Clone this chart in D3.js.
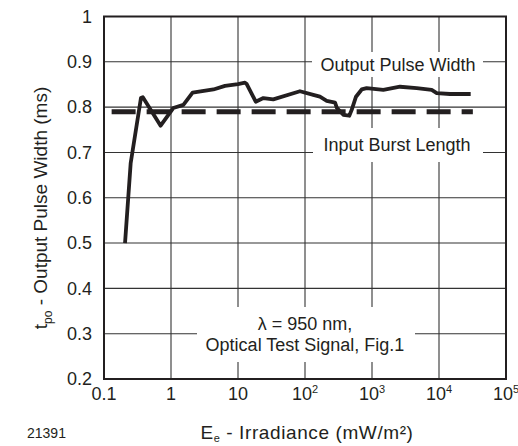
<!DOCTYPE html>
<html>
<head>
<meta charset="utf-8">
<script src="https://cdn.jsdelivr.net/npm/d3@7"></script>
<style>
body { margin: 0; background: #fff; }
text { font-family: "Liberation Sans", Arial, sans-serif; fill: #231f20; }
</style>
</head>
<body>
<script>
// irradiance (mW/m2) and output pulse width (ms)
var irradiance = [0.206, 0.25, 0.356, 0.38, 0.70, 1.08, 1.53, 2.1, 4.3, 6.4, 10, 12.7, 13.5, 18.4, 23.9, 33.6, 84, 133, 167, 211, 281, 300, 373, 458, 498, 577, 702, 832, 1476, 2620, 4650, 7780, 9250, 14600, 29700];
var pulseWidth = [0.50, 0.676, 0.82, 0.822, 0.759, 0.798, 0.805, 0.832, 0.839, 0.847, 0.851, 0.854, 0.851, 0.812, 0.82, 0.817, 0.835, 0.827, 0.823, 0.814, 0.810, 0.798, 0.783, 0.781, 0.794, 0.823, 0.839, 0.842, 0.838, 0.845, 0.842, 0.838, 0.831, 0.829, 0.829];
var burstX = [0.13, 32000];
var burstLength = 0.79;
var xTicks = [0.1, 1, 10, 100, 1000, 10000, 100000];
var xTickLabels = ["0.1", "1", "10", "10|2", "10|3", "10|4", "10|5"];
var yTicks = [0.2, 0.3, 0.4, 0.5, 0.6, 0.7, 0.8, 0.9, 1];
var yTickLabels = ["0.2", "0.3", "0.4", "0.5", "0.6", "0.7", "0.8", "0.9", "1"];

var margin = {top: 16.5, right: 12, bottom: 67, left: 104}, width = 518 - margin.left - margin.right, height = 446 - margin.top - margin.bottom;

var svg = d3.select("body")
    .append("svg")
    .attr("width", 518)
    .attr("height", 446)
    .append("g")
    .attr("transform", "translate(" + margin.left + "," + margin.top + ")");

var x = d3.scaleLog().domain([0.1, 100000]).range([0, width]);
var y = d3.scaleLinear().domain([0.2, 1]).range([height, 0]);

// grid
svg.selectAll("hgrid")
    .data(yTicks.slice(1, -1))
    .enter()
    .append("line")
    .attr("x1", 0).attr("x2", width)
    .attr("y1", function(d) { return y(d); })
    .attr("y2", function(d) { return y(d); })
    .attr("stroke", "#333").attr("stroke-width", 1.1);
svg.selectAll("vgrid")
    .data(xTicks.slice(1, -1))
    .enter()
    .append("line")
    .attr("y1", 0).attr("y2", height)
    .attr("x1", function(d) { return x(d); })
    .attr("x2", function(d) { return x(d); })
    .attr("stroke", "#333").attr("stroke-width", 1.1);

// white boxes behind the labels
function box(x0, y0, x1, y1) {
    svg.append("rect").attr("x", x0 - margin.left).attr("y", y0 - margin.top)
        .attr("width", x1 - x0).attr("height", y1 - y0).attr("fill", "#fff");
}
box(312, 52, 483, 77);
box(313, 128, 483, 162);
box(197, 307, 415, 362);

// input burst length (dashed)
svg.append("line")
    .attr("x1", x(burstX[0])).attr("x2", x(burstX[1]))
    .attr("y1", y(burstLength)).attr("y2", y(burstLength))
    .attr("stroke", "#231f20").attr("stroke-width", 5)
    .attr("stroke-dasharray", "24,11");

// output pulse width curve
svg.append("path")
    .datum(irradiance)
    .attr("fill", "none")
    .attr("stroke", "#231f20")
    .attr("stroke-width", 3.8)
    .attr("stroke-linejoin", "round")
    .attr("d", d3.line()
        .x(function(d) { return x(d); })
        .y(function(d, i) { return y(pulseWidth[i]); }));

// frame
svg.append("rect").attr("x", 0).attr("y", 0).attr("width", width).attr("height", height)
    .attr("fill", "none").attr("stroke", "#231f20").attr("stroke-width", 2);

// tick labels
svg.selectAll("ylab")
    .data(yTicks)
    .enter()
    .append("text")
    .attr("x", -12)
    .attr("y", function(d) { return y(d); })
    .attr("dy", "0.35em")
    .attr("text-anchor", "end")
    .style("font-size", "18px")
    .text(function(d, i) { return yTickLabels[i]; });

var xl = svg.selectAll("xlab")
    .data(xTicks)
    .enter()
    .append("text")
    .attr("x", function(d) { return x(d); })
    .attr("y", height + 21)
    .attr("text-anchor", "middle")
    .style("font-size", "18px");
xl.each(function(d, i) {
    var parts = xTickLabels[i].split("|");
    var t = d3.select(this);
    t.append("tspan").text(parts[0]);
    if (parts[1]) t.append("tspan").attr("dy", -7).style("font-size", "11px").text(parts[1]);
});

// in-plot labels
svg.append("text").attr("x", 398 - margin.left).attr("y", 71 - margin.top)
    .attr("text-anchor", "middle").style("font-size", "18px").text("Output Pulse Width");
svg.append("text").attr("x", 397 - margin.left).attr("y", 151 - margin.top)
    .attr("text-anchor", "middle").style("font-size", "18px").text("Input Burst Length");
svg.append("text").attr("x", 305 - margin.left).attr("y", 330 - margin.top)
    .attr("text-anchor", "middle").style("font-size", "18px").text("λ = 950 nm,");
svg.append("text").attr("x", 305 - margin.left).attr("y", 351 - margin.top)
    .attr("text-anchor", "middle").style("font-size", "18px").text("Optical Test Signal, Fig.1");

// axis titles
var xt = svg.append("text").attr("x", 307 - margin.left).attr("y", 439 - margin.top)
    .attr("text-anchor", "middle").style("font-size", "19px").style("letter-spacing", "0.6px");
xt.append("tspan").text("E");
xt.append("tspan").attr("dy", 3).style("font-size", "11px").text("e");
xt.append("tspan").attr("dy", -3).text(" - Irradiance (mW/m²)");

var yt = svg.append("text")
    .attr("transform", "translate(" + (47 - margin.left) + "," + (208 - margin.top) + ")rotate(-90)")
    .attr("text-anchor", "middle").style("font-size", "19px");
yt.append("tspan").text("t");
yt.append("tspan").attr("dy", 5).style("font-size", "12px").text("po");
yt.append("tspan").attr("dy", -5).text(" - Output Pulse Width (ms)");

svg.append("text").attr("x", 27 - margin.left).attr("y", 438 - margin.top)
    .style("font-size", "14px").text("21391");
</script>
</body>
</html>
